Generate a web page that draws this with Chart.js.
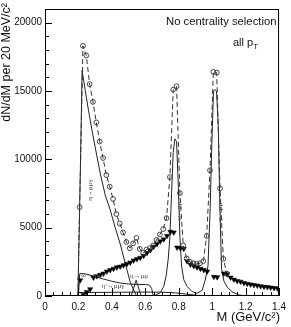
<!DOCTYPE html>
<html><head><meta charset="utf-8">
<script src="https://cdn.jsdelivr.net/npm/chart.js@4.4.1/dist/chart.umd.min.js"></script>
<style>html,body{margin:0;padding:0;background:#fff;}#wrap{width:291px;height:327px;}</style>
</head><body><div id="wrap"><canvas id="c" width="291" height="327"></canvas></div>
<script>
// ---- data ----
const xTickValues = [0, 0.2, 0.4, 0.6, 0.8, 1.0, 1.2, 1.4];
const xTickLabels = ['0','0.2','0.4','0.6','0.8','1','1.2','1.4'];
const yTickValues = [0, 5000, 10000, 15000, 20000];
const yTickLabels = ['0','5000','10000','15000','20000'];

// open circles joined by dashed line (measured spectrum)
const totalMass  = [0.197,0.207,0.227,0.247,0.267,0.287,0.307,0.327,0.347,0.367,0.387,0.407,0.427,0.447,0.467,0.487,0.507,0.527,0.547,0.567,0.587,0.607,0.627,0.647,0.667,0.687,0.707,0.727,0.747,0.767,0.787,0.807,0.827,0.847,0.867,0.887,0.907,0.927,0.947,0.967,0.987,1.007,1.027,1.047,1.067,1.087];
const totalValue = [0,6500,18300,17600,15500,14200,12700,11300,10100,8850,8000,7100,6000,5300,4650,3950,3500,3850,4250,3450,3150,3400,3500,3700,4100,4500,4900,5700,8700,15100,15350,7530,3700,2750,2500,2400,2350,2400,2550,4400,9200,16400,16350,7880,2720,1640];

// filled down triangles (excess)
const excessMass  = [0.21,0.23,0.25,0.27,0.29,0.31,0.33,0.35,0.37,0.39,0.41,0.43,0.45,0.47,0.49,0.51,0.53,0.55,0.57,0.59,0.61,0.63,0.65,0.67,0.69,0.71,0.73,0.75,0.77,0.79,0.81,0.83,0.85,0.87,0.89,0.91,0.93,0.95,0.97,1.01,1.03,1.07,1.09,1.11,1.13,1.15,1.17,1.19,1.21,1.23,1.25,1.27,1.29,1.31,1.33,1.35,1.37,1.39];
const excessValue = [1150,100,300,500,1350,1450,1550,1650,1800,1900,2000,2100,2150,2250,2350,2450,2600,2700,2800,2950,3150,3350,3600,3800,4000,4150,4400,4700,4650,3550,3500,3450,2550,2300,2200,2100,2000,1900,1800,1400,1380,1650,1600,1350,1200,1100,1050,950,900,850,800,760,720,680,650,620,590,560];

// cocktail components (solid lines)
const etaDalitzMass  = [0.197,0.212,0.222,0.24,0.26,0.28,0.30,0.33,0.36,0.39,0.42,0.45,0.48,0.51,0.53,0.548];
const etaDalitzValue = [0,9500,16500,15100,13600,12200,10900,9000,7400,6300,5000,3800,2400,1000,450,0];

const omegaDalitzMass  = [0.200,0.208,0.25,0.30,0.35,0.40,0.45,0.50,0.55,0.60,0.625,0.638,0.648];
const omegaDalitzValue = [0,1650,1600,1420,1240,1080,950,880,850,840,800,550,0];

const etaMuMuMass  = [0.515,0.545,0.575];
const etaMuMuValue = [0,1150,0];

const etaPrimeMass  = [0.200,0.30,0.40,0.50,0.60,0.70,0.78,0.85,0.92,0.958];
const etaPrimeValue = [250,260,270,280,290,280,230,130,40,0];

const resonanceMass  = [0.62,0.66,0.69,0.71,0.725,0.737,0.747,0.757,0.767,0.777,0.787,0.797,0.807,0.817,0.83,0.85,0.88,0.91,0.94,0.958,0.975,0.988,0.998,1.008,1.016,1.026,1.036,1.046,1.056,1.07,1.09,1.12,1.16,1.2];
const resonanceValue = [0,60,250,700,1500,2700,4300,7500,10500,11500,11300,8200,4300,2200,1200,700,320,200,420,1150,2200,6400,11200,15000,15100,15000,12500,6600,2000,1100,650,300,80,0];

const pts = (xs, ys) => xs.map((x, i) => ({x, y: ys[i]}));
const SANS = '"Liberation Sans", Arial, sans-serif';
const SERIF = '"Liberation Serif", "DejaVu Serif", serif';
const lineColor = '#222';

const curve = (xs, ys) => ({
  data: pts(xs, ys), showLine: true, pointRadius: 0, borderColor: lineColor,
  borderWidth: 1, fill: false, order: 3
});

const labelFor = (values, labels) => v => {
  const i = values.findIndex(t => Math.abs(t - v) < 1e-6 * (1 + Math.abs(t)));
  return i >= 0 ? labels[i] : '';
};

const decor = {
  id: 'decor',
  afterDatasetsDraw(chart) {
    const {ctx, chartArea: a, scales: {x, y}} = chart;
    ctx.save();
    ctx.strokeStyle = '#000';
    ctx.lineWidth = 1;
    ctx.strokeRect(a.left + 0.5, a.top + 0.5, a.right - a.left - 1, a.bottom - a.top - 1);
    ctx.beginPath();
    for (let i = 0; i <= 28; i++) {
      const px = Math.round(x.getPixelForValue(i * 0.05)) + 0.5;
      const len = i % 4 === 0 ? 8 : 4;
      ctx.moveTo(px, a.bottom); ctx.lineTo(px, a.bottom - len);
    }
    for (let i = 0; i <= 21; i++) {
      const py = Math.round(y.getPixelForValue(i * 1000)) + 0.5;
      const len = i % 5 === 0 ? 7 : 4;
      ctx.moveTo(a.left, py); ctx.lineTo(a.left + len, py);
    }
    ctx.stroke();

    ctx.fillStyle = '#111';
    ctx.font = '11.3px ' + SANS;
    ctx.textBaseline = 'middle';
    ctx.textAlign = 'left';
    ctx.fillText('No centrality selection', 166, 22);
    ctx.font = '11px ' + SANS;
    ctx.fillText('all p', 233, 43);
    const w = ctx.measureText('all p').width;
    ctx.font = '8px ' + SANS;
    ctx.fillText('T', 233 + w, 47);

    ctx.font = '13px ' + SANS;
    ctx.textAlign = 'right';
    ctx.fillText('M (GeV/c\u00B2)', 280, 317);
    ctx.save();
    ctx.translate(7, 3);
    ctx.rotate(-Math.PI / 2);
    ctx.font = '12.5px ' + SANS;
    ctx.textAlign = 'right';
    ctx.fillText('dN/dM per 20 MeV/c\u00B2', 0, 0);
    ctx.restore();

    ctx.fillStyle = '#444';
    ctx.font = '7px ' + SERIF;
    ctx.textAlign = 'center';
    ctx.fillText('\u03C9\u2192\u03BC\u03BC\u03C0\u2070', 94, 275);
    ctx.fillText('\u03B7\u2192\u03BC\u03BC', 139, 276.5);
    ctx.fillText('\u03B7\'\u2192\u03BC\u03BC\u03B3', 113, 286);
    const vlabel = (t, cx, cy) => {
      ctx.save(); ctx.translate(cx, cy); ctx.rotate(-Math.PI / 2);
      ctx.fillText(t, 0, 0); ctx.restore();
    };
    vlabel('\u03B7\u2192\u03BC\u03BC\u03B3', 90.5, 190);
    vlabel('\u03C9\u2192\u03BC\u03BC', 179, 211);
    vlabel('\u03C6\u2192\u03BC\u03BC', 220.5, 212);
    ctx.restore();
  }
};

new Chart(document.getElementById('c'), {
  type: 'scatter',
  data: {
    datasets: [
      {
        data: pts(totalMass, totalValue), showLine: true, borderColor: '#333', borderWidth: 1,
        borderDash: [5, 3], pointStyle: 'circle',
        pointRadius: c => c.dataIndex === 0 ? 0 : 2.4,
        pointBorderColor: '#333', pointBorderWidth: 0.9, pointBackgroundColor: 'rgba(255,255,255,0)',
        order: 1
      },
      {
        data: pts(excessMass, excessValue), showLine: false, pointStyle: 'triangle', rotation: 180,
        pointRadius: 3, pointBackgroundColor: '#000', pointBorderColor: '#000', pointBorderWidth: 0.5,
        order: 2
      },
      curve(etaDalitzMass, etaDalitzValue),
      curve(omegaDalitzMass, omegaDalitzValue),
      curve(etaMuMuMass, etaMuMuValue),
      curve(etaPrimeMass, etaPrimeValue),
      curve(resonanceMass, resonanceValue)
    ]
  },
  options: {
    responsive: false, animation: false, devicePixelRatio: 1,
    layout: {padding: {top: 5, right: 5, left: 0, bottom: 0}},
    plugins: {legend: {display: false}, tooltip: {enabled: false}},
    scales: {
      x: {
        type: 'linear', min: 0, max: 1.4, bounds: 'data',
        grid: {display: false, drawTicks: false}, border: {display: false},
        afterBuildTicks: s => { s.ticks = xTickValues.map(v => ({value: v})); },
        ticks: {autoSkip: false, maxRotation: 0, minRotation: 0, padding: 5,
          color: '#111', font: {size: 10, family: SANS},
          callback: labelFor(xTickValues, xTickLabels)},
        afterFit: s => { s.height = 31; }
      },
      y: {
        min: 0, max: 21000, bounds: 'data',
        grid: {display: false, drawTicks: false}, border: {display: false},
        afterBuildTicks: s => { s.ticks = yTickValues.map(v => ({value: v})); },
        ticks: {autoSkip: false, padding: 3,
          color: '#111', font: {size: 10, family: SANS},
          callback: labelFor(yTickValues, yTickLabels)},
        afterFit: s => { s.width = 45; }
      }
    }
  },
  plugins: [decor]
});
</script>
</body></html>
